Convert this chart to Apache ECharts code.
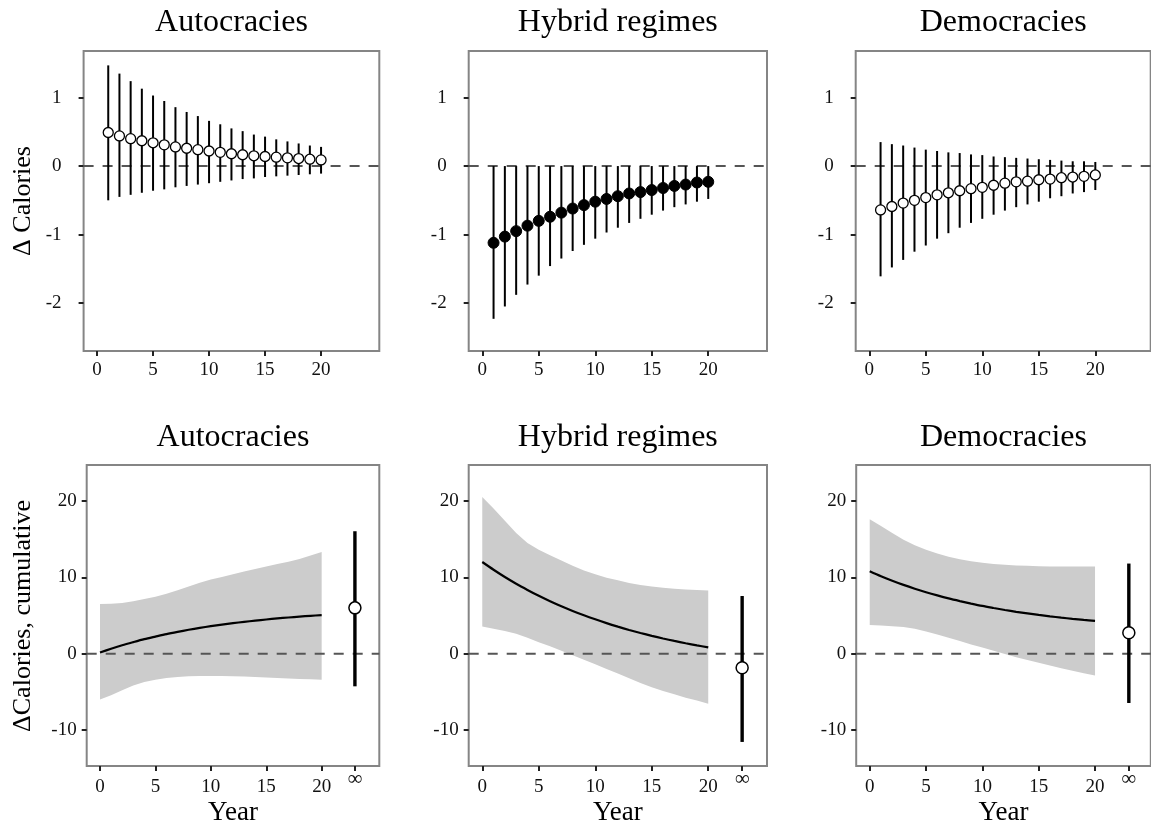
<!DOCTYPE html>
<html>
<head>
<meta charset="utf-8">
<script src="https://cdn.jsdelivr.net/npm/echarts@6/dist/echarts.min.js"></script>
<style>
  html, body { margin: 0; padding: 0; background: #fff; }
  #chart { width: 1151px; height: 828px; }
</style>
</head>
<body>
<div id="chart"></div>
<script>
// ---- data ----------------------------------------------------------------
const panelTitles = ['Autocracies', 'Hybrid regimes', 'Democracies'];
const years = [1, 2, 3, 4, 5, 6, 7, 8, 9, 10, 11, 12, 13, 14, 15, 16, 17, 18, 19, 20];
const cumYears = [0, 1, 2, 3, 4, 5, 6, 7, 8, 9, 10, 11, 12, 13, 14, 15, 16, 17, 18, 19, 20];
const xTicks = [0, 5, 10, 15, 20];
const infPos = 23;            // position of the long-run (∞) estimate on the year axis
const infLabel = '∞';
const yTicksTop = [-2, -1, 0, 1];
const yTicksBottom = [-10, 0, 10, 20];

// yearly effect, Δ Calories
const autoEst = [0.49, 0.44, 0.40, 0.37, 0.34, 0.31, 0.28, 0.26, 0.24, 0.22, 0.20, 0.18, 0.165, 0.15, 0.14, 0.13, 0.12, 0.11, 0.10, 0.09];
const autoHi  = [1.47, 1.35, 1.24, 1.13, 1.03, 0.95, 0.86, 0.79, 0.73, 0.66, 0.61, 0.55, 0.51, 0.46, 0.43, 0.39, 0.36, 0.33, 0.30, 0.28];
const autoLo  = [-0.50, -0.45, -0.42, -0.39, -0.36, -0.34, -0.31, -0.29, -0.27, -0.25, -0.23, -0.21, -0.19, -0.18, -0.16, -0.15, -0.14, -0.13, -0.12, -0.11];

const hybEst = [-1.12, -1.03, -0.95, -0.87, -0.80, -0.74, -0.68, -0.62, -0.57, -0.52, -0.48, -0.44, -0.40, -0.38, -0.35, -0.32, -0.29, -0.27, -0.24, -0.23];
const hybHi  = [0.00, 0.00, 0.00, 0.00, 0.00, 0.00, 0.00, 0.00, 0.00, 0.00, 0.00, 0.00, 0.00, 0.00, 0.00, 0.00, 0.00, 0.00, 0.00, 0.00];
const hybLo  = [-2.23, -2.05, -1.88, -1.73, -1.60, -1.46, -1.35, -1.24, -1.15, -1.06, -0.97, -0.90, -0.83, -0.77, -0.71, -0.65, -0.60, -0.56, -0.52, -0.48];

const demEst = [-0.64, -0.59, -0.54, -0.50, -0.46, -0.42, -0.39, -0.36, -0.33, -0.31, -0.28, -0.25, -0.23, -0.22, -0.20, -0.19, -0.17, -0.16, -0.15, -0.13];
const demHi  = [0.35, 0.32, 0.30, 0.27, 0.24, 0.22, 0.20, 0.19, 0.17, 0.16, 0.14, 0.13, 0.12, 0.11, 0.10, 0.09, 0.08, 0.07, 0.07, 0.06];
const demLo  = [-1.61, -1.48, -1.37, -1.25, -1.16, -1.06, -0.98, -0.90, -0.83, -0.77, -0.71, -0.65, -0.60, -0.56, -0.52, -0.47, -0.44, -0.40, -0.38, -0.35];

// cumulative effect, ΔCalories
const autoCum   = [0.15, 0.64, 1.10, 1.51, 1.90, 2.24, 2.57, 2.86, 3.13, 3.38, 3.60, 3.81, 4.00, 4.17, 4.33, 4.48, 4.62, 4.74, 4.85, 4.96, 5.05];
const autoCumHi = [6.5, 6.55, 6.65, 6.85, 7.15, 7.45, 7.85, 8.3, 8.8, 9.3, 9.7, 10.05, 10.4, 10.75, 11.1, 11.4, 11.75, 12.05, 12.4, 12.85, 13.3];
const autoCumLo = [-6.0, -5.45, -4.8, -4.15, -3.7, -3.4, -3.18, -3.05, -2.96, -2.93, -2.92, -2.93, -2.96, -3.0, -3.05, -3.1, -3.18, -3.24, -3.31, -3.36, -3.4];
const autoInf = [6.0, -4.27, 16.03];   // estimate, lower, upper

const hybCum   = [12.0, 10.99, 10.04, 9.16, 8.35, 7.58, 6.87, 6.21, 5.60, 5.03, 4.50, 4.00, 3.54, 3.11, 2.71, 2.34, 1.99, 1.67, 1.37, 1.09, 0.83];
const hybCumHi = [20.5, 19.0, 17.4, 15.8, 14.5, 13.6, 12.9, 12.2, 11.5, 10.9, 10.4, 9.95, 9.6, 9.25, 9.0, 8.8, 8.63, 8.5, 8.41, 8.33, 8.28];
const hybCumLo = [3.57, 3.27, 2.96, 2.6, 2.09, 1.5, 0.96, 0.39, -0.2, -0.78, -1.37, -2.0, -2.6, -3.2, -3.83, -4.38, -4.88, -5.3, -5.75, -6.14, -6.55];
const hybInf = [-1.85, -11.55, 7.55];

const demCum   = [10.80, 10.15, 9.56, 9.01, 8.51, 8.05, 7.63, 7.24, 6.89, 6.56, 6.25, 5.98, 5.72, 5.48, 5.27, 5.07, 4.89, 4.72, 4.56, 4.42, 4.29];
const demCumHi = [17.6, 16.7, 15.8, 14.9, 14.2, 13.6, 13.1, 12.7, 12.35, 12.1, 11.9, 11.75, 11.65, 11.55, 11.5, 11.45, 11.42, 11.41, 11.4, 11.4, 11.4];
const demCumLo = [3.75, 3.68, 3.6, 3.48, 3.25, 2.92, 2.5, 2.08, 1.65, 1.22, 0.8, 0.38, -0.05, -0.45, -0.82, -1.2, -1.55, -1.9, -2.22, -2.55, -2.85];
const demInf = [2.75, -6.45, 11.8];

// ---- layout / style ---------------------------------------------------------
const FONT = '"Liberation Serif", "DejaVu Serif", serif';
const FRAME = '#858585';
const BAND = '#cccccc';
const ZERO = '#555555';

const topPanels = [
  { left: 83.6, width: 295.7, xMax: 25.2, est: autoEst, lo: autoLo, hi: autoHi, filled: false },
  { left: 468.7, width: 298.3, xMax: 25.2, est: hybEst, lo: hybLo, hi: hybHi, filled: true },
  { left: 855.7, width: 295.0, xMax: 24.9, est: demEst, lo: demLo, hi: demHi, filled: false }
];
const bottomPanels = [
  { left: 86.7, width: 292.6, xMax: 25.2, est: autoCum, lo: autoCumLo, hi: autoCumHi, inf: autoInf },
  { left: 468.7, width: 298.3, xMax: 25.2, est: hybCum, lo: hybCumLo, hi: hybCumHi, inf: hybInf },
  { left: 856.2, width: 294.6, xMax: 24.95, est: demCum, lo: demCumLo, hi: demCumHi, inf: demInf }
];
const X_MIN = -1.2;
const TOP_ROW = { top: 51, height: 300, yMin: -2.7, yMax: 1.68 };
const BOT_ROW = { top: 465, height: 301, yMin: -14.7, yMax: 24.7 };

const grids = [], xAxes = [], yAxes = [], series = [], graphics = [];

function tickStyle() {
  return { show: true, inside: false, length: 5, lineStyle: { color: '#222', width: 2 } };
}

function addAxes(idx, p, row, yTicks, xVals, yMargin, xMargin) {
  grids.push({
    left: p.left, top: row.top, width: p.width, height: row.height,
    show: true, borderColor: FRAME, borderWidth: 2, backgroundColor: 'transparent'
  });
  xAxes.push({
    type: 'value', gridIndex: idx, min: X_MIN, max: p.xMax, position: 'bottom',
    axisLine: { show: false, onZero: false }, splitLine: { show: false },
    axisTick: Object.assign(tickStyle(), { customValues: xVals }),
    axisLabel: {
      // the ∞ tick gets its own raised label, drawn below
      customValues: xTicks, margin: xMargin, color: '#111',
      fontFamily: FONT, fontSize: 19
    }
  });
  yAxes.push({
    type: 'value', gridIndex: idx, min: row.yMin, max: row.yMax, position: 'left',
    axisLine: { show: false, onZero: false }, splitLine: { show: false },
    axisTick: Object.assign(tickStyle(), { customValues: yTicks }),
    axisLabel: {
      customValues: yTicks, margin: yMargin, color: '#111',
      fontFamily: FONT, fontSize: 19
    }
  });
}

function zeroLine(idx, xMax) {
  series.push({
    type: 'line', xAxisIndex: idx, yAxisIndex: idx, z: 2,
    data: [[X_MIN, 0], [xMax, 0]], showSymbol: false, silent: true,
    lineStyle: { color: ZERO, width: 2, type: [10, 9] }
  });
}

function errorBars(idx, xs, lo, hi, width, z) {
  series.push({
    type: 'custom', xAxisIndex: idx, yAxisIndex: idx, z: z, silent: true,
    data: xs.map((x, i) => [x, lo[i], hi[i]]),
    encode: { x: 0, y: [1, 2] },
    renderItem: (params, api) => {
      const a = api.coord([api.value(0), api.value(1)]);
      const b = api.coord([api.value(0), api.value(2)]);
      return { type: 'line', shape: { x1: a[0], y1: a[1], x2: b[0], y2: b[1] },
               style: { stroke: '#000', lineWidth: width } };
    }
  });
}

function textEl(text, x, y, size, rotation, color) {
  return {
    type: 'text', silent: true, x: x, y: y, rotation: rotation || 0,
    style: { text: text, x: 0, y: 0, font: size + 'px ' + FONT, fill: color || '#000',
             align: 'center', verticalAlign: 'middle' }
  };
}

// top row: yearly effects with intervals
topPanels.forEach((p, k) => {
  const idx = k;
  addAxes(idx, p, TOP_ROW, yTicksTop, xTicks, 22, 10);
  zeroLine(idx, p.xMax);
  errorBars(idx, years, p.lo, p.hi, 2, 3);
  series.push({
    type: 'scatter', xAxisIndex: idx, yAxisIndex: idx, z: 5, silent: true,
    data: years.map((x, i) => [x, p.est[i]]),
    symbol: 'circle', symbolSize: p.filled ? 11 : 10,
    itemStyle: p.filled ? { color: '#000', borderColor: '#000', borderWidth: 1, opacity: 1 }
                        : { color: '#fff', borderColor: '#000', borderWidth: 1.3, opacity: 1 }
  });
  graphics.push(textEl(panelTitles[k], p.left + p.width / 2, 23, 32));
});

// bottom row: cumulative effects with band and long-run estimate
bottomPanels.forEach((p, k) => {
  const idx = k + 3;
  addAxes(idx, p, BOT_ROW, yTicksBottom, xTicks.concat([infPos]), 10, 12);
  series.push({
    type: 'custom', xAxisIndex: idx, yAxisIndex: idx, z: 1, silent: true,
    data: cumYears.map((x, i) => [x, p.lo[i], p.hi[i]]),
    encode: { x: 0, y: [1, 2] },
    renderItem: (params, api) => {
      if (params.dataIndex !== 0) return null;
      const upper = cumYears.map((x, i) => api.coord([x, p.hi[i]]));
      const lower = cumYears.map((x, i) => api.coord([x, p.lo[i]])).reverse();
      return { type: 'polygon', shape: { points: upper.concat(lower) },
               style: { fill: BAND, stroke: null } };
    }
  });
  zeroLine(idx, p.xMax);
  series.push({
    type: 'line', xAxisIndex: idx, yAxisIndex: idx, z: 3, silent: true,
    data: cumYears.map((x, i) => [x, p.est[i]]),
    showSymbol: false, smooth: 0.3,
    lineStyle: { color: '#000', width: 2.2 }
  });
  errorBars(idx, [infPos], [p.inf[1]], [p.inf[2]], 3.4, 4);
  series.push({
    type: 'scatter', xAxisIndex: idx, yAxisIndex: idx, z: 5, silent: true,
    data: [[infPos, p.inf[0]]],
    symbol: 'circle', symbolSize: 12,
    itemStyle: { color: '#fff', borderColor: '#000', borderWidth: 1.5, opacity: 1 }
  });
  graphics.push(textEl(panelTitles[k], p.left + p.width / 2, 437.5, 32));
  graphics.push(textEl('Year', p.left + p.width / 2, 813, 27));
});

// y-axis titles (read bottom to top)
graphics.push(textEl('Δ Calories', 23, 201, 26, Math.PI / 2));
graphics.push(textEl('ΔCalories, cumulative', 23, 616, 26, Math.PI / 2));

const chart = echarts.init(document.getElementById('chart'), null, { renderer: 'canvas' });
chart.setOption({
  animation: false,
  backgroundColor: '#fff',
  grid: grids,
  xAxis: xAxes,
  yAxis: yAxes,
  series: series
});

// raised ∞ tick label, placed at the ∞ position of each cumulative axis
bottomPanels.forEach((p, k) => {
  const idx = k + 3;
  const px = chart.convertToPixel({ xAxisIndex: idx, yAxisIndex: idx }, [infPos, 0])[0];
  graphics.push(textEl(infLabel, px, 779, 21, 0, '#111'));
});
chart.setOption({ graphic: graphics });
</script>
</body>
</html>
